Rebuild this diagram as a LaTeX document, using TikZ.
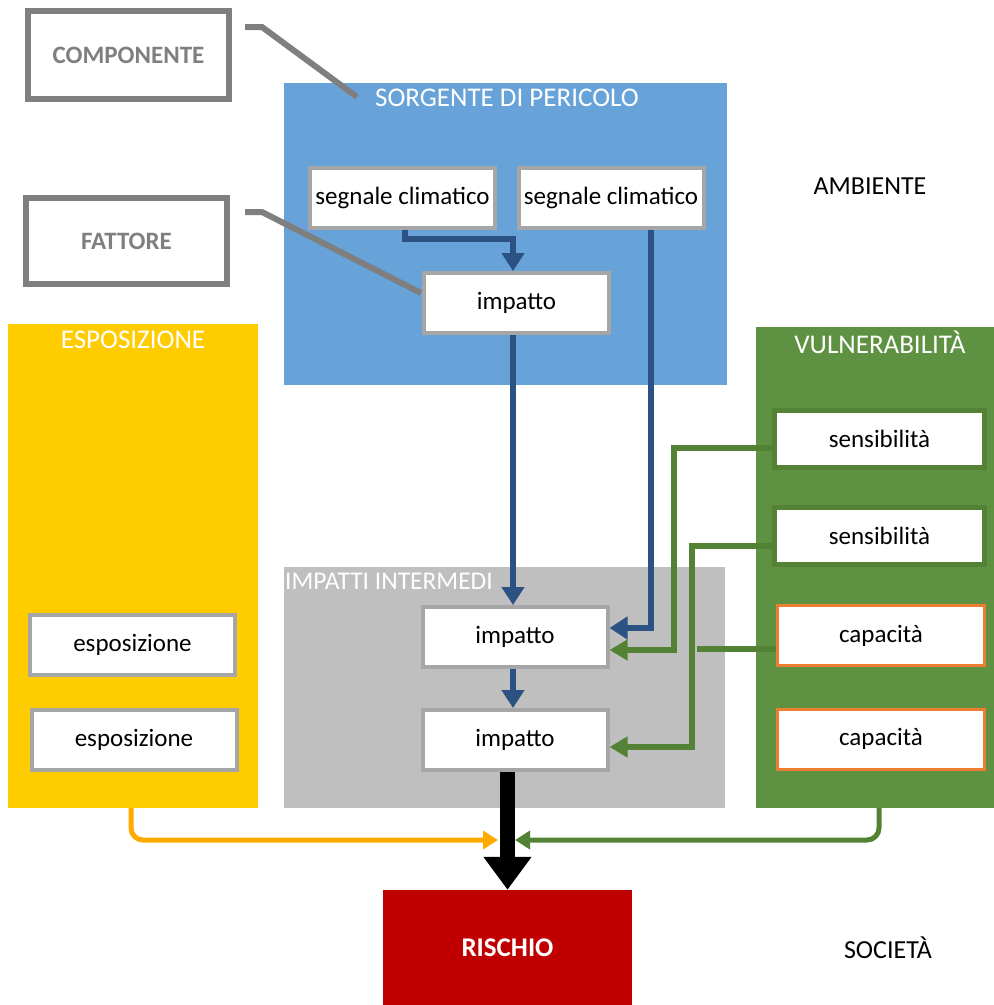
\documentclass[tikz,border=0pt]{standalone}
\usepackage{fontspec}
\setmainfont{Carlito}
\usepackage{tikz}
\usetikzlibrary{arrows.meta,positioning}
\definecolor{sorgblue}{HTML}{67A3D8}
\definecolor{espyel}{HTML}{FFCC00}
\definecolor{vulgreen}{HTML}{5E9141}
\definecolor{impgray}{HTML}{BFBFBF}
\definecolor{riskred}{HTML}{C00000}
\definecolor{arrblue}{HTML}{2B5283}
\definecolor{arrgreen}{HTML}{548235}
\definecolor{arrorange}{HTML}{FFAA00}
\definecolor{boxgray}{HTML}{A6A6A6}
\definecolor{lblgray}{HTML}{7F7F7F}
\definecolor{capborder}{HTML}{ED7D31}

\begin{document}
\begin{tikzpicture}[x=1pt,y=-1pt,
  panel/.style={inner sep=0,minimum width=#1},
  ttl/.style={text=white,font=\fontsize{27}{30}\selectfont,inner sep=0},
  lbl/.style={draw=lblgray,line width=6pt,fill=white,text=lblgray,font=\fontsize{25}{28}\selectfont\bfseries,minimum width=201pt,inner sep=0},
  ele/.style={draw=boxgray,line width=4pt,fill=white,font=\fontsize{25}{28}\selectfont,minimum width=185pt,minimum height=60pt,inner sep=0},
  sens/.style={ele,draw=arrgreen,line width=5pt,minimum width=210pt,minimum height=57pt},
  capa/.style={ele,draw=capborder,line width=3pt,minimum width=207pt,minimum height=60pt},
  side/.style={font=\fontsize{26}{29}\selectfont,inner sep=0},
  barrow/.style={draw=arrblue,line width=6pt,-{Triangle[width=22pt,length=18pt]}},
  garrow/.style={draw=arrgreen,line width=6pt,-{Triangle[width=20pt,length=18pt]}},
  leader/.style={draw=lblgray,line width=6pt}]
  \useasboundingbox (0,0) rectangle (994,1005);

  \node[panel=443pt,minimum height=302pt,fill=sorgblue] (sorg) at (505.5,234) {};
  \node[panel=250pt,minimum height=484pt,fill=espyel] (espo) at (133,566) {};
  \node[panel=238pt,minimum height=481pt,fill=vulgreen] (vuln) at (875,567.5) {};
  \node[panel=441pt,minimum height=241pt,fill=impgray] (inter) at (504.5,687.5) {};
  \node[panel=249pt,minimum height=115pt,fill=riskred,text=white,font=\fontsize{27}{30}\selectfont\bfseries] (risc) at (507.5,947.5) {RISCHIO};

  \node[ttl] (sorgt) at (507,98) {SORGENTE DI PERICOLO};
  \node[ttl] (espot) at (133,340) {ESPOSIZIONE};
  \node[ttl] (vulnt) at (880,342) {VULNERABILITÀ};
  \node[ttl,anchor=west,font=\fontsize{25.5}{28}\selectfont] (intert) at (285,581) {IMPATTI INTERMEDI};
  \node[side] (amb) at (870,186) {AMBIENTE};
  \node[side] (soc) at (888,948) {SOCIETÀ};

  \node[lbl,minimum height=88pt] (comp) at (128.5,55) {COMPONENTE};
  \node[lbl,minimum height=86pt] (fatt) at (126.5,241) {FATTORE};

  \node[ele] (seg1) at (402.5,197.5) {segnale climatico};
  \node[ele] (seg2) at (611,197.5) {segnale climatico};
  \node[ele] (imp1) at (516.5,303) {impatto};
  \node[ele] (imp2) at (515,637) {impatto};
  \node[ele] (imp3) at (515,740) {impatto};
  \node[ele,minimum width=205pt] (esp1) at (132.5,645) {esposizione};
  \node[ele,minimum width=205pt] (esp2) at (134,739.5) {esposizione};
  \node[sens] (sens1) at (879.5,439) {sensibilità};
  \node[sens] (sens2) at (879.5,536) {sensibilità};
  \node[capa] (cap1) at (881,635.5) {capacità};
  \node[capa] (cap2) at (881,739) {capacità};

  \coordinate (compl) at (245,27);
  \coordinate (compe) at (357,97);
  \coordinate (fattl) at (245,212);
  \coordinate (fatte) at (421,293);
  \coordinate (capj) at (697,649);
  \coordinate (mergel) at (498,840);
  \coordinate (merger) at (515,840);

  \draw[leader] (compl) -- ++(17,0) -- (compe);
  \draw[leader] (fattl) -- ++(17,0) -- (fatte);

  \draw[barrow] ([xshift=2.5pt]seg1.south) |- ([xshift=-3.5pt,yshift=32pt]imp1.north) -- ([xshift=-3.5pt]imp1.north);
  \draw[barrow] ([xshift=40pt]seg2.south) |- ([yshift=9pt]imp2.east);
  \draw[barrow] ([xshift=-3.5pt]imp1.south) -- ([xshift=-2pt]imp2.north);
  \draw[barrow] ([xshift=-2pt]imp2.south) -- ([xshift=-2pt]imp3.north);

  \draw[garrow] ([yshift=-9pt]sens1.west) -| ([xshift=64pt,yshift=-13pt]imp2.east) -- ([yshift=-13pt]imp2.east);
  \draw[garrow] ([yshift=-10pt]sens2.west) -| ([xshift=82.5pt,yshift=-7pt]imp3.east) -- ([yshift=-7pt]imp3.east);
  \draw[draw=arrgreen,line width=6pt] ([yshift=-13.5pt]cap1.west) -- (capj);

  \draw[draw=arrorange,line width=5pt,rounded corners=12pt,-{Triangle[width=18pt,length=15pt]}] ([xshift=-2pt]espo.south) |- (mergel);
  \draw[draw=arrgreen,line width=5pt,rounded corners=12pt,-{Triangle[width=18pt,length=15pt]}] ([xshift=4pt]vuln.south) |- (merger);
  \draw[line width=15pt,-{Triangle[width=46pt,length=33pt]}] (risc.north |- imp3.south) -- (risc.north);
\end{tikzpicture}
\end{document}
